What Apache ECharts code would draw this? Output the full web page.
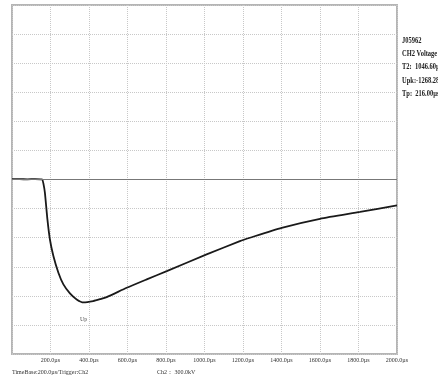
<!DOCTYPE html>
<html style="height: 100%">
<head>
    <meta charset="utf-8">
    <title>CH2 Voltage</title>
    <style>
    body { margin: 0; background: #fff; }
    #container { width: 438px; height: 381px; }
    </style>
</head>
<body>
    <div id="container"></div>
    <script type="text/javascript" src="https://cdn.jsdelivr.net/npm/echarts@6/dist/echarts.min.js"></script>
    <script type="text/javascript">
    // times in µs, voltage in kV
    var times = [0, 40, 80, 120, 150, 157, 163, 171, 184, 197, 215, 241, 267, 301, 336, 372, 422, 457, 492, 596, 700, 804, 1011, 1184, 1236, 1401, 1600, 1808, 2000];
    var volts = [4, 3, 2, 4, 2, 1, -40, -137, -412, -619, -790, -962, -1082, -1175, -1237, -1268, -1254, -1235, -1213, -1117, -1030, -945, -773, -636, -601, -498, -405, -335, -268];
    var infoLines = ['J05962', 'CH2 Voltage', 'T2:  1046.60µs', 'Upk:-1268.28kV', 'Tp:  216.00µs'];
    var footLeft = 'TimeBase:200.0µs/Trigger:Ch2';
    var footRight = 'Ch2： 300.0kV';

    var pts = times.map(function (t, i) { return [t, volts[i]]; });

    var font = '"Liberation Serif", "DejaVu Serif", serif';
    var info = infoLines.map(function (s, i) {
        return {
            type: 'text', x: 402, y: 36 + i * 13.3, scaleX: 0.72,
            style: { text: s, fontFamily: font, fontSize: 9, fontWeight: 'bold', fill: '#222' }
        };
    });

    var myChart = echarts.init(document.getElementById('container'));
    var option = {
        animation: false,
        grid: { left: 12, right: 41, top: 5, bottom: 27, show: true, borderColor: '#b5b5b5', borderWidth: 2 },
        xAxis: {
            type: 'value', min: 0, max: 2000, interval: 200,
            axisLine: { show: false }, axisTick: { show: false },
            splitLine: { lineStyle: { type: 'dotted', color: '#c8c8c8', width: 1 } },
            axisLabel: {
                margin: 3, fontSize: 6, fontFamily: font, color: '#333',
                formatter: function (v) { return v === 0 ? '' : v.toFixed(1) + 'µs'; }
            }
        },
        yAxis: {
            type: 'value', min: -1800, max: 1800, interval: 300,
            axisLine: { show: false }, axisTick: { show: false }, axisLabel: { show: false },
            splitLine: { lineStyle: { type: 'dotted', color: '#c8c8c8', width: 1 } }
        },
        series: [{
            type: 'line', data: pts, showSymbol: false, smooth: 0.2,
            lineStyle: { color: '#1a1a1a', width: 1.8 },
            markLine: {
                silent: true, symbol: 'none', label: { show: false },
                lineStyle: { color: '#777', type: 'solid', width: 1 },
                data: [{ yAxis: 0 }]
            },
            markPoint: {
                symbol: 'circle', symbolSize: 0,
                label: { show: true, formatter: 'Up', offset: [0, 17], fontSize: 6, fontFamily: font, color: '#555' },
                data: [{ coord: [372, -1268] }]
            }
        }],
        graphic: info.concat([
            { type: 'text', left: 12, top: 369, style: { text: footLeft, fontFamily: font, fontSize: 6, fill: '#333' } },
            { type: 'text', left: 157, top: 369, style: { text: footRight, fontFamily: font, fontSize: 6, fill: '#333' } }
        ])
    };
    myChart.setOption(option);
    </script>
</body>
</html>
